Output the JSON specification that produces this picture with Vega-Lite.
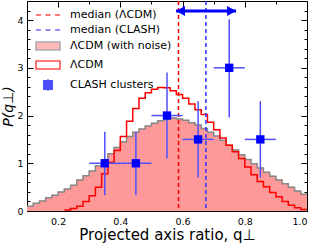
{
  "$schema": "https://vega.github.io/schema/vega-lite/v6.json",
  "width": 280,
  "height": 210,
  "autosize": {"type": "none"},
  "padding": {"left": 27, "top": 1, "right": 9, "bottom": 32},
  "config": {
    "font": "DejaVu Sans",
    "view": {"stroke": "black", "strokeWidth": 1},
    "axis": {"grid": false, "domain": false, "labelFont": "DejaVu Sans", "labelFontSize": 9.5, "labelColor": "black", "titleFont": "DejaVu Sans", "titleFontSize": 15, "titleFontWeight": "normal", "titleColor": "black", "tickColor": "black", "tickWidth": 1}
  },
  "datasets": {
    "hist": [
      {"q0":0.10,"q1":0.12,"noise":0.10,"lcdm":0},
      {"q0":0.12,"q1":0.14,"noise":0.16,"lcdm":0},
      {"q0":0.14,"q1":0.16,"noise":0.21,"lcdm":0},
      {"q0":0.16,"q1":0.18,"noise":0.28,"lcdm":0},
      {"q0":0.18,"q1":0.20,"noise":0.33,"lcdm":0},
      {"q0":0.20,"q1":0.22,"noise":0.40,"lcdm":0},
      {"q0":0.22,"q1":0.24,"noise":0.46,"lcdm":0.02},
      {"q0":0.24,"q1":0.26,"noise":0.54,"lcdm":0.05},
      {"q0":0.26,"q1":0.28,"noise":0.65,"lcdm":0.10},
      {"q0":0.28,"q1":0.30,"noise":0.74,"lcdm":0.20},
      {"q0":0.30,"q1":0.32,"noise":0.84,"lcdm":0.32},
      {"q0":0.32,"q1":0.34,"noise":0.95,"lcdm":0.50},
      {"q0":0.34,"q1":0.36,"noise":1.07,"lcdm":0.78},
      {"q0":0.36,"q1":0.38,"noise":1.20,"lcdm":1.02},
      {"q0":0.38,"q1":0.40,"noise":1.33,"lcdm":1.27},
      {"q0":0.40,"q1":0.42,"noise":1.45,"lcdm":1.56},
      {"q0":0.42,"q1":0.44,"noise":1.56,"lcdm":1.88},
      {"q0":0.44,"q1":0.46,"noise":1.65,"lcdm":2.15},
      {"q0":0.46,"q1":0.48,"noise":1.72,"lcdm":2.36},
      {"q0":0.48,"q1":0.50,"noise":1.78,"lcdm":2.48},
      {"q0":0.50,"q1":0.52,"noise":1.84,"lcdm":2.55},
      {"q0":0.52,"q1":0.54,"noise":1.89,"lcdm":2.59},
      {"q0":0.54,"q1":0.56,"noise":1.93,"lcdm":2.58},
      {"q0":0.56,"q1":0.58,"noise":1.95,"lcdm":2.52},
      {"q0":0.58,"q1":0.60,"noise":1.93,"lcdm":2.44},
      {"q0":0.60,"q1":0.62,"noise":1.90,"lcdm":2.36},
      {"q0":0.62,"q1":0.64,"noise":1.85,"lcdm":2.24},
      {"q0":0.64,"q1":0.66,"noise":1.80,"lcdm":2.12},
      {"q0":0.66,"q1":0.68,"noise":1.73,"lcdm":2.02},
      {"q0":0.68,"q1":0.70,"noise":1.65,"lcdm":1.86},
      {"q0":0.70,"q1":0.72,"noise":1.57,"lcdm":1.70},
      {"q0":0.72,"q1":0.74,"noise":1.48,"lcdm":1.53},
      {"q0":0.74,"q1":0.76,"noise":1.38,"lcdm":1.38},
      {"q0":0.76,"q1":0.78,"noise":1.28,"lcdm":1.24},
      {"q0":0.78,"q1":0.80,"noise":1.18,"lcdm":1.10},
      {"q0":0.80,"q1":0.82,"noise":1.08,"lcdm":0.92},
      {"q0":0.82,"q1":0.84,"noise":0.99,"lcdm":0.76},
      {"q0":0.84,"q1":0.86,"noise":0.90,"lcdm":0.62},
      {"q0":0.86,"q1":0.88,"noise":0.81,"lcdm":0.51},
      {"q0":0.88,"q1":0.90,"noise":0.73,"lcdm":0.39},
      {"q0":0.90,"q1":0.92,"noise":0.65,"lcdm":0.30},
      {"q0":0.92,"q1":0.94,"noise":0.57,"lcdm":0.20},
      {"q0":0.94,"q1":0.96,"noise":0.50,"lcdm":0.12},
      {"q0":0.96,"q1":0.98,"noise":0.42,"lcdm":0.07},
      {"q0":0.98,"q1":1.00,"noise":0.35,"lcdm":0.03}
    ],
    "clash": [
      {"q":0.35,"p":1.0,"qlo":0.30,"qhi":0.40,"plo":0.33,"phi":1.66},
      {"q":0.45,"p":1.0,"qlo":0.40,"qhi":0.50,"plo":0.33,"phi":1.66},
      {"q":0.55,"p":2.0,"qlo":0.50,"qhi":0.60,"plo":1.10,"phi":2.90},
      {"q":0.65,"p":1.5,"qlo":0.60,"qhi":0.70,"plo":0.70,"phi":2.30},
      {"q":0.75,"p":3.0,"qlo":0.70,"qhi":0.80,"plo":1.96,"phi":4.02},
      {"q":0.85,"p":1.5,"qlo":0.80,"qhi":0.90,"plo":0.70,"phi":2.30}
    ],
    "medians": [
      {"name":"ΛCDM","q":0.587},
      {"name":"CLASH","q":0.675}
    ],
    "arrow": [
      {"q0":0.579,"q1":0.772,"p":4.19}
    ],
    "legend": [
      {"series":"median (ΛCDM)"},
      {"series":"median (CLASH)"},
      {"series":"ΛCDM (with noise)"},
      {"series":"ΛCDM"},
      {"series":"CLASH clusters"}
    ]
  },
  "resolve": {"axis": {"x": "independent", "y": "independent"}},
  "layer": [
    {
      "data": {"name": "hist"},
      "mark": {"type": "rect", "fill": "#ff9999", "stroke": "#ff9999", "strokeWidth": 0.8, "clip": true},
      "encoding": {
        "x": {"field": "q0", "type": "quantitative", "scale": {"domain": [0.1, 1.0], "nice": false, "zero": false},
              "axis": {"orient": "bottom", "values": [0.2,0.4,0.6,0.8,1.0], "format": ".1f", "ticks": false, "labelPadding": 5, "title": "Projected axis ratio, q⊥", "titlePadding": 2}},
        "x2": {"field": "q1"},
        "y": {"field": "noise", "type": "quantitative", "scale": {"domain": [0, 4.4], "nice": false, "zero": false},
              "axis": {"orient": "left", "values": [0,1,2,3,4], "ticks": false, "labelPadding": 4, "title": "P(q⊥)", "titleFontStyle": "italic", "titleFontSize": 14, "titlePadding": 1}},
        "y2": {"datum": 0}
      }
    },
    {
      "data": {"name": "hist"},
      "transform": [{"fold": ["q0","q1"], "as": ["edge","q"]}],
      "mark": {"type": "line", "color": "#888888", "strokeWidth": 1.5, "clip": true},
      "encoding": {
        "x": {"field": "q", "type": "quantitative", "scale": {"domain": [0.1, 1.0], "nice": false, "zero": false},
              "axis": {"orient": "bottom", "values": [0.2,0.4,0.6,0.8,1.0], "offset": -6, "tickSize": 6, "labels": false, "title": null}},
        "y": {"field": "noise", "type": "quantitative", "scale": {"domain": [0, 4.4], "nice": false, "zero": false},
              "axis": {"orient": "left", "values": [0,1,2,3,4], "offset": -6, "tickSize": 6, "labels": false, "title": null}},
        "order": [{"field": "q", "type": "quantitative"}, {"field": "edge", "type": "nominal", "sort": "descending"}]
      }
    },
    {
      "data": {"name": "hist"},
      "transform": [{"filter": "datum.lcdm > 0"}, {"fold": ["q0","q1"], "as": ["edge","q"]}],
      "mark": {"type": "line", "color": "#ff0000", "strokeWidth": 1.5, "clip": true},
      "encoding": {
        "x": {"field": "q", "type": "quantitative", "scale": {"domain": [0.1, 1.0], "nice": false, "zero": false},
              "axis": {"orient": "bottom", "values": [0.1,0.3,0.5,0.7,0.9], "offset": -3, "tickSize": 3, "labels": false, "title": null}},
        "y": {"field": "lcdm", "type": "quantitative", "scale": {"domain": [0, 4.4], "nice": false, "zero": false},
              "axis": {"orient": "left", "values": [0.2,0.4,0.6,0.8,1.2,1.4,1.6,1.8,2.2,2.4,2.6,2.8,3.2,3.4,3.6,3.8,4.2], "offset": -3, "tickSize": 3, "labels": false, "title": null}},
        "order": [{"field": "q", "type": "quantitative"}, {"field": "edge", "type": "nominal", "sort": "descending"}]
      }
    },
    {
      "data": {"name": "medians"},
      "transform": [{"filter": "datum.name == 'ΛCDM'"}],
      "mark": {"type": "rule", "color": "#ff0000", "strokeWidth": 1.5, "strokeDash": [4, 3]},
      "encoding": {
        "x": {"field": "q", "type": "quantitative", "scale": {"domain": [0.1, 1.0], "nice": false, "zero": false},
              "axis": {"orient": "top", "values": [0.2,0.4,0.6,0.8,1.0], "offset": -6, "tickSize": 6, "labels": false, "title": null}}
      }
    },
    {
      "data": {"name": "medians"},
      "transform": [{"filter": "datum.name == 'CLASH'"}],
      "mark": {"type": "rule", "color": "#3030ff", "strokeWidth": 1.5, "strokeDash": [4, 3]},
      "encoding": {
        "x": {"field": "q", "type": "quantitative", "scale": {"domain": [0.1, 1.0], "nice": false, "zero": false},
              "axis": {"orient": "top", "values": [0.1,0.3,0.5,0.7,0.9], "offset": -3, "tickSize": 3, "labels": false, "title": null}}
      }
    },
    {
      "data": {"name": "arrow"},
      "mark": {"type": "rule", "color": "#0000ff", "strokeWidth": 3},
      "encoding": {
        "x": {"field": "q0", "type": "quantitative", "axis": null},
        "x2": {"field": "q1"},
        "y": {"field": "p", "type": "quantitative", "axis": null}
      }
    },
    {
      "data": {"name": "arrow"},
      "mark": {"type": "point", "shape": "M0,0L1.8,-1L1.8,1Z", "filled": true, "size": 100, "color": "#0000ff", "opacity": 1},
      "encoding": {
        "x": {"field": "q0", "type": "quantitative", "axis": null},
        "y": {"field": "p", "type": "quantitative", "axis": null}
      }
    },
    {
      "data": {"name": "arrow"},
      "mark": {"type": "point", "shape": "M0,0L-1.8,-1L-1.8,1Z", "filled": true, "size": 100, "color": "#0000ff", "opacity": 1},
      "encoding": {
        "x": {"field": "q1", "type": "quantitative", "axis": null},
        "y": {"field": "p", "type": "quantitative", "axis": null}
      }
    },
    {
      "data": {"name": "clash"},
      "mark": {"type": "rule", "color": "#5050ff", "strokeWidth": 1.5},
      "encoding": {
        "x": {"field": "qlo", "type": "quantitative", "axis": null},
        "x2": {"field": "qhi"},
        "y": {"field": "p", "type": "quantitative", "scale": {"domain": [0, 4.4], "nice": false, "zero": false},
              "axis": {"orient": "right", "values": [0,1,2,3,4], "offset": -6, "tickSize": 6, "labels": false, "title": null}}
      }
    },
    {
      "data": {"name": "clash"},
      "mark": {"type": "rule", "color": "#5050ff", "strokeWidth": 1.5},
      "encoding": {
        "x": {"field": "q", "type": "quantitative", "axis": null},
        "y": {"field": "plo", "type": "quantitative", "scale": {"domain": [0, 4.4], "nice": false, "zero": false},
              "axis": {"orient": "right", "values": [0.2,0.4,0.6,0.8,1.2,1.4,1.6,1.8,2.2,2.4,2.6,2.8,3.2,3.4,3.6,3.8,4.2], "offset": -3, "tickSize": 3, "labels": false, "title": null}},
        "y2": {"field": "phi"}
      }
    },
    {
      "data": {"name": "clash"},
      "mark": {"type": "square", "color": "#0000ff", "size": 70, "opacity": 1},
      "encoding": {
        "x": {"field": "q", "type": "quantitative", "axis": null},
        "y": {"field": "p", "type": "quantitative", "axis": null}
      }
    },
    {
      "data": {"name": "legend"},
      "mark": {"type": "point", "filled": false},
      "encoding": {
        "x": {"field": "lx", "type": "quantitative", "axis": null},
        "y": {"field": "ly", "type": "quantitative", "axis": null},
        "shape": {"field": "series", "type": "nominal",
          "scale": {"domain": ["median (ΛCDM)", "median (CLASH)", "ΛCDM (with noise)", "ΛCDM", "CLASH clusters"],
                    "range": ["M-2,0H-1.17M-0.42,0H0.42M1.17,0H2", "M-2,0H-1.17M-0.42,0H0.42M1.17,0H2", "M-2,-0.67H2V0.67H-2Z", "M-2,-0.67H2V0.67H-2Z", "M-0.7,-0.7H0.7V0.7H-0.7Z M0,-0.95V0.95"]},
          "legend": {"title": null, "orient": "top-left", "offset": 7, "padding": 0, "symbolSize": 144, "symbolStrokeWidth": 1.5, "symbolFillColor": "white", "symbolStrokeColor": "black", "symbolOffset": 7, "labelFont": "DejaVu Sans", "labelFontSize": 11, "labelColor": "black", "labelOffset": 15, "rowPadding": 3}},
        "fill": {"field": "series", "type": "nominal",
          "scale": {"domain": ["median (ΛCDM)", "median (CLASH)", "ΛCDM (with noise)", "ΛCDM", "CLASH clusters"],
                    "range": ["transparent", "transparent", "#ff9999", "white", "#0000ff"]},
          "legend": {"title": null, "orient": "top-left", "offset": 7, "padding": 0, "symbolSize": 144, "symbolStrokeWidth": 1.5, "symbolFillColor": "white", "symbolStrokeColor": "black", "symbolOffset": 7, "labelFont": "DejaVu Sans", "labelFontSize": 11, "labelColor": "black", "labelOffset": 15, "rowPadding": 3}},
        "stroke": {"field": "series", "type": "nominal",
          "scale": {"domain": ["median (ΛCDM)", "median (CLASH)", "ΛCDM (with noise)", "ΛCDM", "CLASH clusters"],
                    "range": ["#ff0000", "#3030ff", "#888888", "#ff0000", "#0000ff"]},
          "legend": {"title": null, "orient": "top-left", "offset": 7, "padding": 0, "symbolSize": 144, "symbolStrokeWidth": 1.5, "symbolFillColor": "white", "symbolStrokeColor": "black", "symbolOffset": 7, "labelFont": "DejaVu Sans", "labelFontSize": 11, "labelColor": "black", "labelOffset": 15, "rowPadding": 3}}
      }
    }
  ]
}
